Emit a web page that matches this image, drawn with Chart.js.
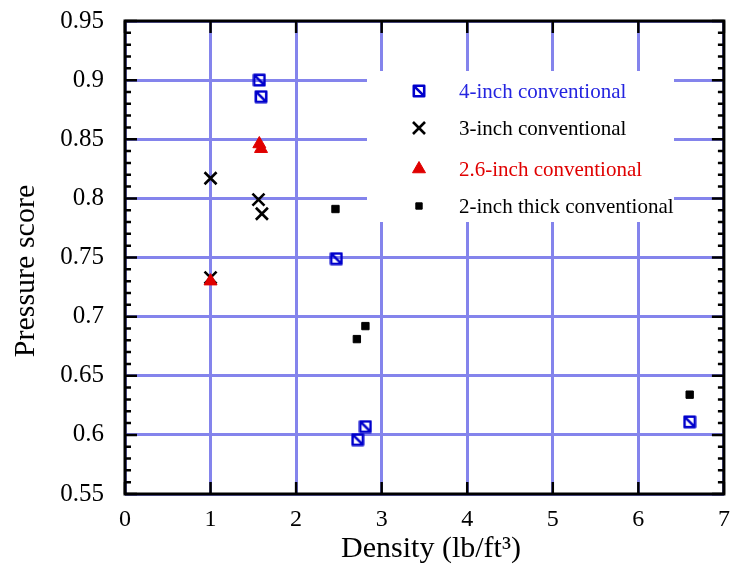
<!DOCTYPE html>
<html>
<head>
<meta charset="utf-8">
<title>Pressure score vs density</title>
<script src="https://cdn.jsdelivr.net/npm/chart.js@4/dist/chart.umd.min.js"></script>
<style>
  html, body { margin: 0; padding: 0; background: #fff; }
  canvas { display: block; }
</style>
</head>
<body>
<canvas id="chart" width="735" height="573"></canvas>
<script>
// Pressure score against density for four pad types.

const seriesNames = ["4-inch conventional", "3-inch conventional", "2.6-inch conventional", "2-inch thick conventional"]

const fourInchX = [1.57, 1.59, 2.47, 2.81, 2.72, 6.60]
const fourInchY = [0.900, 0.886, 0.749, 0.607, 0.596, 0.611]

const threeInchX = [1.00, 1.56, 1.60, 1.00]
const threeInchY = [0.817, 0.799, 0.787, 0.733]

const twoSixInchX = [1.57, 1.59, 1.00]
const twoSixInchY = [0.846, 0.842, 0.730]

const twoInchX = [2.46, 2.81, 2.71, 6.60]
const twoInchY = [0.791, 0.692, 0.681, 0.634]

const xTickLabels = ["0", "1", "2", "3", "4", "5", "6", "7"]
const yTickLabels = ["0.55", "0.6", "0.65", "0.7", "0.75", "0.8", "0.85", "0.9", "0.95"]

const xTitle = "Density (lb/ft³)"
const yTitle = "Pressure score"

const SERIF = "'Liberation Serif', 'Times New Roman', serif"
const BLUE = "#0000cc"
const RED = "#e00000"
const GRID = "#8484ec"

const toPoints = (xs, ys) => xs.map((x, i) => ({ x, y: ys[i] }))

// open square with a diagonal stroke, like the original marker
function slashedSquare(size) {
  const c = document.createElement("canvas")
  c.width = size
  c.height = size
  const g = c.getContext("2d")
  g.strokeStyle = BLUE
  g.lineWidth = 2.6
  g.lineJoin = "round"
  const a = 1.8
  const b = size - 1.8
  g.strokeRect(a, a, b - a, b - a)
  g.beginPath()
  g.moveTo(a, a)
  g.lineTo(b, b)
  g.stroke()
  return c
}

const squareMarker = slashedSquare(14)

const styles = [
  { pointStyle: squareMarker, radius: 7, borderWidth: 0, color: BLUE, text: "#2424e0" },
  { pointStyle: "crossRot", radius: 8.5, borderWidth: 2.6, color: "#000", text: "#000" },
  { pointStyle: "triangle", radius: 7.5, borderWidth: 1, color: RED, text: RED },
  { pointStyle: "rect", radius: 5.2, borderWidth: 1, color: "#000", text: "#000" }
]

const dataPoints = [
  toPoints(fourInchX, fourInchY),
  toPoints(threeInchX, threeInchY),
  toPoints(twoSixInchX, twoSixInchY),
  toPoints(twoInchX, twoInchY)
]

// triangles sit on top of the crosses at density 1
const drawOrder = [0, 2, 1, 3]

const datasets = seriesNames.map((name, i) => ({
  label: name,
  data: dataPoints[i],
  showLine: false,
  order: drawOrder[i],
  pointStyle: styles[i].pointStyle,
  pointRadius: styles[i].radius,
  pointHoverRadius: styles[i].radius,
  pointBorderWidth: styles[i].borderWidth,
  pointBorderColor: styles[i].color,
  pointBackgroundColor: styles[i].color
}))

// white legend box inside the plot, covering the grid
const insetLegend = {
  id: "insetLegend",
  beforeDatasetsDraw(chart) {
    const ctx = chart.ctx
    ctx.save()
    ctx.fillStyle = "#fff"
    ctx.fillRect(367, 71, 307, 151)
    const rows = [91, 128, 169, 206]
    ctx.font = "21px " + SERIF
    ctx.textBaseline = "middle"
    ctx.textAlign = "left"
    seriesNames.forEach((name, i) => {
      const s = styles[i]
      ctx.fillStyle = s.color
      ctx.strokeStyle = s.color
      ctx.lineWidth = s.borderWidth
      Chart.helpers.drawPoint(ctx, {
        pointStyle: s.pointStyle,
        radius: i === 3 ? 4.5 : s.radius,
        rotation: 0,
        borderWidth: s.borderWidth
      }, 419, rows[i])
      ctx.fillStyle = s.text
      ctx.fillText(name, 459, rows[i] + 1)
    })
    ctx.restore()
  }
}

// black frame with inward ticks on all four sides, plus the axis titles
const frame = {
  id: "frame",
  afterDraw(chart) {
    const { ctx, chartArea: a, scales } = chart
    const x = scales.x
    const y = scales.y
    ctx.save()
    ctx.strokeStyle = "#000"
    ctx.lineWidth = 2.5
    ctx.beginPath()
    for (let v = 0; v <= 7; v += 1) {
      const px = x.getPixelForValue(v)
      ctx.moveTo(px, a.bottom)
      ctx.lineTo(px, a.bottom - 12)
      ctx.moveTo(px, a.top)
      ctx.lineTo(px, a.top + 12)
    }
    for (let k = 0; k <= 40; k += 1) {
      const py = y.getPixelForValue(0.55 + k * 0.01)
      const len = k % 5 === 0 ? 12 : 6
      ctx.moveTo(a.left, py)
      ctx.lineTo(a.left + len, py)
      ctx.moveTo(a.right, py)
      ctx.lineTo(a.right - len, py)
    }
    ctx.stroke()
    ctx.lineWidth = 3
    ctx.strokeRect(a.left, a.top, a.right - a.left, a.bottom - a.top)

    ctx.fillStyle = "#000"
    ctx.font = "30px " + SERIF
    ctx.textAlign = "center"
    ctx.textBaseline = "alphabetic"
    ctx.fillText(xTitle, 431, 557)
    ctx.translate(34, 271)
    ctx.rotate(-Math.PI / 2)
    ctx.fillText(yTitle, 0, 0)
    ctx.restore()
  }
}

new Chart(document.getElementById("chart"), {
  type: "scatter",
  data: { datasets },
  plugins: [insetLegend, frame],
  options: {
    responsive: false,
    animation: false,
    events: [],
    layout: { padding: { top: 21, right: 10, left: 0, bottom: 0 } },
    plugins: {
      legend: { display: false },
      tooltip: { enabled: false }
    },
    scales: {
      x: {
        type: "linear",
        min: 0,
        max: 7,
        afterFit(scale) {
          scale.height = 79
          scale.paddingLeft = 0
          scale.paddingRight = 0
        },
        grid: { color: GRID, lineWidth: 3, drawTicks: false },
        border: { display: false },
        ticks: {
          stepSize: 1,
          padding: 11,
          color: "#000",
          font: { family: SERIF, size: 24 },
          callback: (v, i) => xTickLabels[i]
        }
      },
      y: {
        type: "linear",
        min: 0.55,
        max: 0.95,
        afterFit(scale) {
          scale.width = 125
          scale.paddingTop = 0
          scale.paddingBottom = 0
        },
        grid: { color: GRID, lineWidth: 3, drawTicks: false },
        border: { display: false },
        ticks: {
          stepSize: 0.05,
          padding: 21,
          color: "#000",
          font: { family: SERIF, size: 25 },
          callback: (v, i) => yTickLabels[i]
        }
      }
    }
  }
})
</script>
</body>
</html>
